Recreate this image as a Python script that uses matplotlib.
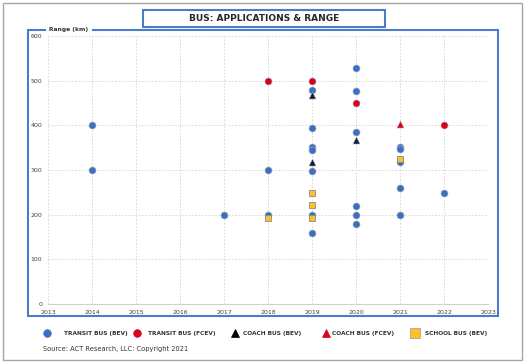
import matplotlib.pyplot as plt
from matplotlib.patches import Rectangle
from matplotlib.lines import Line2D

# data (year, range km)
transit_bev_year = [2014, 2014, 2017, 2018, 2018, 2019, 2019, 2019, 2019, 2019, 2019, 2019,
                    2020, 2020, 2020, 2020, 2020, 2020, 2021, 2021, 2021, 2021, 2021, 2022]
transit_bev_range = [400, 300, 200, 300, 200, 480, 394, 352, 345, 298, 199, 158,
                     529, 476, 384, 219, 199, 179, 352, 348, 318, 260, 200, 249]
transit_fcev_year = [2018, 2019, 2020, 2022]
transit_fcev_range = [500, 500, 449, 400]
coach_bev_year = [2019, 2019, 2020]
coach_bev_range = [467, 319, 367]
coach_fcev_year = [2021]
coach_fcev_range = [402]
school_bev_year = [2018, 2019, 2019, 2019, 2021]
school_bev_range = [193, 249, 222, 193, 324]

years = list(range(2013, 2024))
ranges = list(range(0, 601, 100))

c_blue = '#3c6fc4'
c_red = '#d9001b'
c_navy = '#101c3c'
c_school = '#ffbf2a'
c_frame = '#4a7cc9'

fig = plt.figure(figsize=(5.26, 3.64), dpi=100)
ax = fig.add_axes([48/526, 1-304/364, 440/526, 268/364])

edge = '#b8b8b8'
ax.scatter(transit_bev_year, transit_bev_range, s=26, marker='o', color=c_blue,
           edgecolors=edge, linewidths=0.4, zorder=3)
ax.scatter(transit_fcev_year, transit_fcev_range, s=26, marker='o', color=c_red,
           edgecolors=edge, linewidths=0.4, zorder=3)
ax.scatter(coach_bev_year, coach_bev_range, s=26, marker='^', color=c_navy,
           edgecolors=edge, linewidths=0.4, zorder=4)
ax.scatter(coach_fcev_year, coach_fcev_range, s=26, marker='^', color=c_red,
           edgecolors=edge, linewidths=0.4, zorder=4)
ax.scatter(school_bev_year, school_bev_range, s=22, marker='s', color=c_school,
           edgecolors='#8a8a8a', linewidths=0.6, zorder=4)

ax.set_xlim(2013, 2023)
ax.set_ylim(0, 600)
ax.set_xticks(years)
ax.set_yticks(ranges)
ax.tick_params(length=0, labelsize=4.5, colors='#444444', pad=4)
ax.grid(True, linestyle=(0, (2, 2)), color='#d4d4d4', linewidth=0.6)
for s in ['top', 'right', 'left']:
    ax.spines[s].set_visible(False)
ax.spines['bottom'].set_color('#d0d0d0')
ax.spines['bottom'].set_linewidth(0.8)

# outer gray border
fig.patches.append(Rectangle((3/526, 4/364), 519/526, 357/364, transform=fig.transFigure,
                             fill=False, edgecolor='#a6a6a6', linewidth=1.0))
# blue plot frame
fig.patches.append(Rectangle((28/526, 1-316/364), 470/526, 286/364, transform=fig.transFigure,
                             fill=False, edgecolor=c_frame, linewidth=1.5))
# title box
fig.patches.append(Rectangle((143/526, 1-27/364), 242/526, 17/364, transform=fig.transFigure,
                             fill=False, edgecolor=c_frame, linewidth=1.5))
fig.text(264/526, 1-18.5/364, 'BUS: APPLICATIONS & RANGE', ha='center', va='center',
         fontsize=6.5, fontweight='bold', color='#262626')
fig.text(69/526, 1-29.5/364, 'Range (km)', ha='center', va='center', fontsize=4.3,
         fontweight='bold', color='#333333',
         bbox=dict(facecolor='white', edgecolor='none', pad=2.5))

# legend
items = [
    ('o', c_blue, 'TRANSIT BUS (BEV)', 47, 64),
    ('o', c_red, 'TRANSIT BUS (FCEV)', 137, 148),
    ('^', 'black', 'COACH BUS (BEV)', 235, 243),
    ('^', c_red, 'COACH BUS (FCEV)', 326, 332),
    ('s', c_school, 'SCHOOL BUS (BEV)', 415, 425),
]
ly = 1-333/364
for m, col, lab, mx, tx in items:
    ec = '#9a9a9a' if m == 's' else col
    ms = 7 if m == 's' else 5.5
    fig.add_artist(Line2D([mx/526], [ly], marker=m, color=col, markersize=ms,
                          markeredgecolor=ec, markeredgewidth=0.5, linestyle='none',
                          transform=fig.transFigure))
    fig.text(tx/526, ly, lab, ha='left', va='center', fontsize=4.2,
             fontweight='bold', color='#333333')

fig.text(43/526, 1-349/364, 'Source: ACT Research, LLC: Copyright 2021', ha='left',
         va='center', fontsize=4.8, color='#333333')

fig.savefig('out.png', dpi=100)
